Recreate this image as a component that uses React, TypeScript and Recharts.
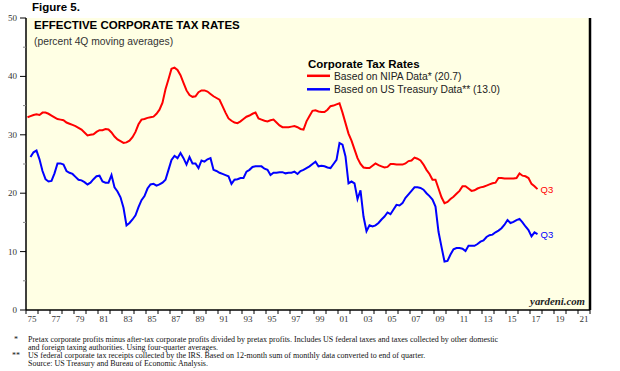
import React from 'react';
import { LineChart, Line, XAxis, YAxis, CartesianGrid } from 'recharts';

const START_YEAR = 1975;

// NIPA-based effective corporate tax rate, quarterly 1975Q1..2017Q3
const nipa: number[] = [
  33.0, 33.2, 33.4, 33.5,
  33.4, 33.8, 33.8, 33.6,
  33.3, 33.0, 32.7, 32.6,
  32.5, 32.1, 31.9, 31.7,
  31.5, 31.2, 30.9, 30.4,
  29.9, 30.0, 30.1, 30.5,
  30.8, 30.8, 31.0, 30.9,
  30.4, 29.7, 29.2, 28.9,
  28.6, 28.7, 29.0, 29.6,
  30.5, 31.8, 32.6, 32.7,
  32.9, 33.0, 33.1, 33.6,
  34.3, 35.5, 37.8, 39.5,
  41.3, 41.5, 41.1, 40.2,
  38.9, 37.6, 36.8, 36.5,
  36.6, 37.3, 37.6, 37.6,
  37.4, 37.0, 36.6, 36.3,
  36.0, 34.9, 33.8, 32.8,
  32.4, 32.1, 32.0, 32.3,
  32.7, 33.1, 33.3, 33.6,
  33.8, 32.8, 32.6, 32.4,
  32.3, 32.5, 32.6, 32.1,
  31.6, 31.3, 31.3, 31.3,
  31.4, 31.5, 31.3, 31.0,
  30.9, 32.3, 33.2, 34.1,
  34.2, 34.0, 33.9, 33.9,
  34.3, 34.9, 35.0, 35.2,
  35.4, 33.8, 32.0, 30.2,
  29.0, 27.5, 26.0, 25.0,
  24.4, 24.3, 24.3, 24.7,
  25.1, 24.8, 24.6, 24.4,
  24.5, 25.0, 25.0, 24.9,
  24.9, 24.9, 25.1, 25.5,
  25.6, 26.1, 25.9, 25.6,
  24.9, 24.0, 23.3, 22.3,
  22.3, 20.8, 19.3, 18.3,
  18.5, 19.0, 19.4, 19.9,
  20.4, 21.2, 21.2, 20.8,
  20.4, 20.5, 20.8, 21.0,
  21.1, 21.3, 21.5, 21.7,
  21.8, 22.6, 22.6, 22.5,
  22.5, 22.5, 22.5, 22.6,
  23.4, 23.0, 22.9, 22.6,
  21.6, 21.2, 20.7,
];

// US Treasury-based effective corporate tax rate, quarterly 1975Q1..2017Q3
const treasury: (number | null)[] = [
  null, 26.2, 27.0, 27.3,
  25.8, 23.8, 22.4, 22.0,
  22.1, 23.4, 25.1, 25.1,
  24.9, 23.8, 23.5, 23.3,
  22.8, 22.3, 22.2, 21.9,
  21.5, 21.8, 22.4, 22.9,
  23.0, 22.0, 21.8, 21.8,
  23.1, 21.0, 20.3, 19.3,
  17.5, 14.5, 14.9, 15.5,
  16.2, 17.6, 18.8, 19.5,
  20.8, 21.5, 21.6, 21.3,
  21.5, 21.8, 22.3, 24.0,
  25.7, 26.4, 26.0, 26.9,
  26.0, 24.9, 26.2, 25.1,
  25.1, 24.3, 25.6, 25.4,
  25.8, 26.0, 24.0, 23.8,
  23.5, 23.3, 23.1, 22.9,
  21.6, 22.3, 22.4, 22.6,
  22.6, 23.7, 24.0, 24.5,
  24.6, 24.6, 24.6, 24.2,
  24.0, 23.1, 23.5, 23.5,
  23.6, 23.6, 23.4, 23.5,
  23.5, 23.7, 23.3, 23.8,
  24.0, 24.3, 24.6, 25.0,
  25.4, 24.6, 24.7, 24.6,
  24.4, 24.3, 25.0, 25.7,
  28.6, 28.3, 26.3, 21.7,
  22.0, 21.7, 19.0, 20.5,
  16.0, 13.5, 14.5, 14.3,
  14.5, 14.9, 15.5, 16.0,
  16.7, 16.4, 17.2, 18.0,
  17.9, 18.3, 19.2, 19.8,
  20.4, 21.0, 21.0, 20.9,
  20.6, 20.0, 19.5, 18.9,
  17.7, 13.4, 10.8, 8.3,
  8.4, 9.5, 10.4, 10.6,
  10.6, 10.5, 10.1, 11.0,
  11.0, 11.0, 11.3, 11.7,
  11.9, 12.5, 12.8, 12.9,
  13.3, 13.6, 14.0, 14.6,
  15.4, 14.9, 15.1, 15.4,
  15.6, 15.0, 14.3, 13.7,
  12.6, 13.3, 13.0,
];

const yearTicks = [
  1975, 1976, 1977, 1978, 1979, 1980, 1981, 1982, 1983, 1984, 1985, 1986,
  1987, 1988, 1989, 1990, 1991, 1992, 1993, 1994, 1995, 1996, 1997, 1998,
  1999, 2000, 2001, 2002, 2003, 2004, 2005, 2006, 2007, 2008, 2009, 2010,
  2011, 2012, 2013, 2014, 2015, 2016, 2017, 2018, 2019, 2020, 2021, 2022,
];
const yTicks = [0, 5, 10, 15, 20, 25, 30, 35, 40, 45, 50];

const seriesLabels = {
  nipa: 'Based on NIPA Data* (20.7)',
  treasury: 'Based on US Treasury Data** (13.0)',
};
const lastQuarterLabel = 'Q3';

const data = nipa.map((v, i) => ({
  t: START_YEAR + i * 0.25 + 0.125,
  nipa: v,
  treasury: treasury[i],
}));

const SERIF = '"Liberation Serif", "Times New Roman", serif';
const SANS = '"Liberation Sans", Arial, sans-serif';
const RED = '#ff0000';
const BLUE = '#0000ff';

const XTick = (props: any) => {
  const { x, y, payload } = props;
  const v = payload.value as number;
  const showLabel = v % 2 === 1 && v < 2022;
  return (
    <g>
      <line x1={x} x2={x} y1={y} y2={y + 4} stroke="#000" strokeWidth={1} />
      {showLabel && (
        <text x={x + 6} y={y + 12} textAnchor="middle" fontSize={9} fontFamily={SERIF} fill="#333">
          {String(v).slice(2)}
        </text>
      )}
    </g>
  );
};

const LeftTick = (props: any) => {
  const { x, y, payload } = props;
  const v = payload.value as number;
  const major = v % 10 === 0;
  return (
    <g>
      <line x1={major ? x - 6 : x - 3} x2={x} y1={y} y2={y} stroke={major ? '#000' : '#888'} strokeWidth={1} />
      {major && (
        <text x={x - 9} y={y + 3} textAnchor="end" fontSize={9} fontFamily={SERIF} fill="#333">
          {v}
        </text>
      )}
    </g>
  );
};

const RightTick = (props: any) => {
  const { x, y, payload } = props;
  const v = payload.value as number;
  const major = v % 10 === 0;
  return (
    <g>
      <line x1={x} x2={major ? x + 7 : x + 4} y1={y} y2={y} stroke={major ? '#000' : '#888'} strokeWidth={1} />
      {major && (
        <text x={x + 9} y={y + 3} textAnchor="start" fontSize={9} fontFamily={SERIF} fill="#333">
          {v}
        </text>
      )}
    </g>
  );
};

const makeEndLabel = (color: string, count: number) => (props: any) => {
  const { x, y, index } = props;
  if (index !== count - 1) return <g />;
  return (
    <text x={x + 3} y={y + 3.5} fontSize={9.5} fontFamily={SANS} fill={color}>
      {lastQuarterLabel}
    </text>
  );
};

export default function App() {
  return (
    <div style={{ position: 'absolute', left: 0, top: 0, width: 620, height: 371, background: '#fff' }}>
      <LineChart width={620} height={371} data={data} margin={{ top: 18, right: 0, bottom: 0, left: 0 }}>
        <CartesianGrid fill="#ffffe4" horizontal={false} vertical={false} />
        <XAxis
          dataKey="t"
          type="number"
          domain={[1975, 2022]}
          ticks={yearTicks}
          interval={0}
          allowDataOverflow
          height={61}
          tickLine={false}
          tickSize={0}
          tickMargin={0}
          tick={<XTick />}
          axisLine={{ stroke: '#000', strokeWidth: 1.5 }}
        />
        <XAxis
          xAxisId="top"
          orientation="top"
          dataKey="t"
          type="number"
          domain={[1975, 2022]}
          allowDataOverflow
          height={0}
          tick={false}
          tickLine={false}
          axisLine={{ stroke: '#000', strokeWidth: 2.5 }}
        />
        <YAxis
          yAxisId="left"
          domain={[0, 50]}
          ticks={yTicks}
          interval={0}
          width={26}
          tickLine={false}
          tickSize={0}
          tickMargin={0}
          tick={<LeftTick />}
          axisLine={{ stroke: '#000', strokeWidth: 1.5 }}
        />
        <YAxis
          yAxisId="right"
          orientation="right"
          domain={[0, 50]}
          ticks={yTicks}
          interval={0}
          width={30}
          tickLine={false}
          tickSize={0}
          tickMargin={0}
          tick={<RightTick />}
          axisLine={{ stroke: '#000', strokeWidth: 2.5 }}
        />
        <Line
          yAxisId="left"
          type="linear"
          dataKey="nipa"
          stroke={RED}
          strokeWidth={2}
          dot={false}
          isAnimationActive={false}
          label={makeEndLabel(RED, nipa.length)}
        />
        <Line
          yAxisId="left"
          type="linear"
          dataKey="treasury"
          stroke={BLUE}
          strokeWidth={2}
          dot={false}
          isAnimationActive={false}
          label={makeEndLabel(BLUE, treasury.length)}
        />
      </LineChart>
      <svg width={620} height={371} style={{ position: 'absolute', left: 0, top: 0, pointerEvents: 'none' }}>
        <text x={32} y={11} fontSize={11.5} fontWeight="bold" fontFamily={SANS} fill="#000">Figure 5.</text>
        <text x={34} y={29} fontSize={11.5} fontWeight="bold" fontFamily={SANS} fill="#000">EFFECTIVE CORPORATE TAX RATES</text>
        <text x={34} y={44.5} fontSize={10.3} fontFamily={SANS} fill="#333">(percent 4Q moving averages)</text>
        <text x={308} y={67.5} fontSize={11.5} fontWeight="bold" fontFamily={SANS} fill="#000">Corporate Tax Rates</text>
        <line x1={307} x2={330} y1={75.8} y2={75.8} stroke={RED} strokeWidth={2.5} />
        <text x={334} y={79.5} fontSize={10.3} fontFamily={SANS} fill="#222">{seriesLabels.nipa}</text>
        <line x1={307} x2={330} y1={89.3} y2={89.3} stroke={BLUE} strokeWidth={2.5} />
        <text x={334} y={93} fontSize={10.3} fontFamily={SANS} fill="#222">{seriesLabels.treasury}</text>
        <text x={585} y={305} textAnchor="end" fontSize={10.8} fontStyle="italic" fontWeight="bold" fontFamily={SERIF} fill="#222">yardeni.com</text>
        <g fontFamily={SERIF} fontSize={8} fill="#111">
          <text x={16} y={341.5} textAnchor="middle">*</text>
          <text x={28} y={341.5}>Pretax corporate profits minus after-tax corporate profits divided by pretax profits. Includes US federal taxes and taxes collected by other domestic</text>
          <text x={28} y={349.7}>and foreign taxing authorities. Using four-quarter averages.</text>
          <text x={16} y={357.9} textAnchor="middle">**</text>
          <text x={28} y={357.9}>US federal corporate tax receipts collected by the IRS. Based on 12-month sum of monthly data converted to end of quarter.</text>
          <text x={28} y={366.1}>Source: US Treasury and Bureau of Economic Analysis.</text>
        </g>
      </svg>
    </div>
  );
}
